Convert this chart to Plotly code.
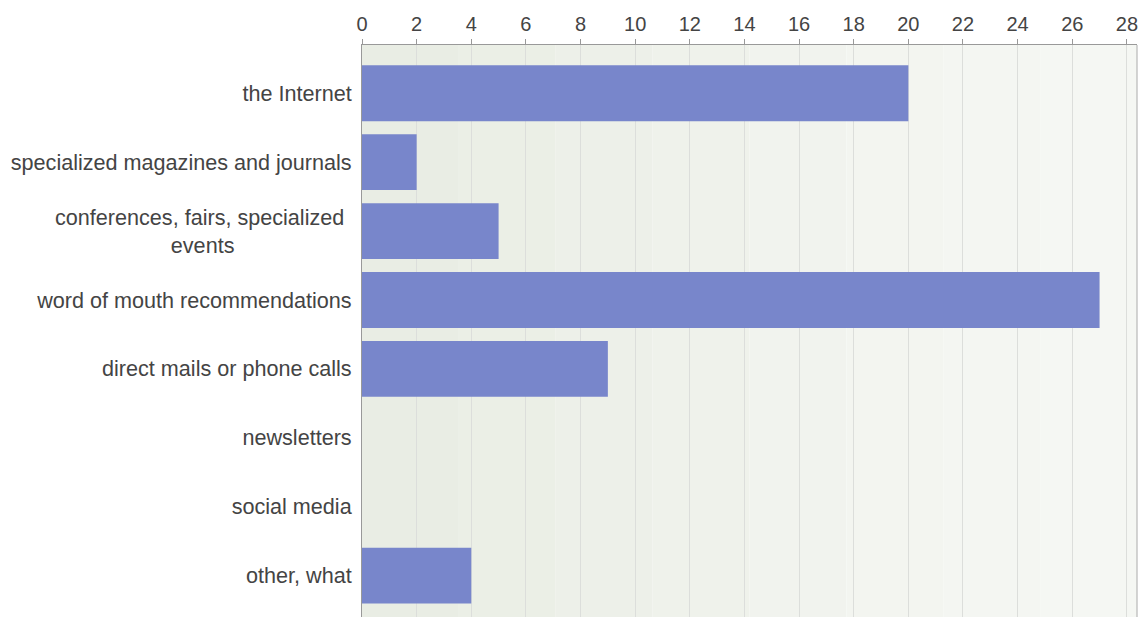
import plotly.graph_objects as go

categories = [
    "the Internet",
    "specialized magazines and journals",
    "conferences, fairs, specialized events",
    "word of mouth recommendations",
    "direct mails or phone calls",
    "newsletters",
    "social media",
    "other, what",
]
values = [20, 2, 5, 27, 9, 0, 0, 4]
tick_vals = list(range(0, 29, 2))

W, H = 1142, 617
L, R, T, B = 362, 5, 45, 0
FONT = "Liberation Sans, Arial, sans-serif"

fig = go.Figure()

# subtle horizontal gradient of the plot background
stripes = ["#e9ede4", "#ebefe6", "#edf0e9", "#eff2eb", "#f1f3ee", "#f3f5f0", "#f4f6f2", "#f5f7f3"]
n = len(stripes)
for i, c in enumerate(stripes):
    fig.add_shape(type="rect", xref="paper", yref="paper",
                  x0=i / n, x1=(i + 1) / n, y0=0, y1=1,
                  fillcolor=c, line_width=0, layer="below")

ticktext = [c if c != "conferences, fairs, specialized events" else "" for c in categories]

fig.add_trace(go.Bar(
    y=categories, x=values, orientation="h",
    width=0.81,
    marker=dict(color="#7886cb", line=dict(width=0)),
    hoverinfo="x+y",
))

fig.add_annotation(
    text="conferences, fairs, specialized <br>events",
    xref="paper", yref="y", x=-0.013, y=categories[2],
    xanchor="right", yanchor="middle", align="center", showarrow=False,
    font=dict(family=FONT, size=21.6, color="#444444"),
)

fig.update_layout(
    width=W, height=H,
    margin=dict(l=L, r=R, t=T, b=B, pad=0, autoexpand=False),
    paper_bgcolor="white",
    plot_bgcolor="rgba(0,0,0,0)",
    showlegend=False,
    font=dict(family=FONT, size=21.6, color="#444444"),
    xaxis=dict(
        side="top", range=[0, 28.37], tickvals=tick_vals,
        tickfont=dict(size=20, color="#444444"),
        showgrid=True, gridcolor="#dcdedb", gridwidth=1,
        ticks="outside", ticklen=5, tickcolor="#999999",
        showline=True, linecolor="#999999", linewidth=1, mirror=False,
        zeroline=False, fixedrange=True, automargin=False,
    ),
    yaxis=dict(
        type="category", categoryorder="array", categoryarray=categories,
        tickvals=categories, ticktext=ticktext,
        range=[7.60, -0.70],
        showgrid=False, ticks="", ticklabelstandoff=5,
        showline=True, linecolor="#999999", linewidth=1,
        zeroline=False, fixedrange=True, automargin=False,
    ),
)
# right border
fig.add_shape(type="line", xref="paper", yref="paper", x0=1, x1=1, y0=0, y1=1,
              line=dict(color="#aaaaaa", width=1))

fig.write_html("out.html", config={"displayModeBar": False})

# remove the default page margin so the figure sits at the window's top-left corner
with open("out.html", encoding="utf-8") as f:
    html = f.read()
html = html.replace("<body>", '<body style="margin:0;padding:0;overflow:hidden">', 1)
with open("out.html", "w", encoding="utf-8") as f:
    f.write(html)
